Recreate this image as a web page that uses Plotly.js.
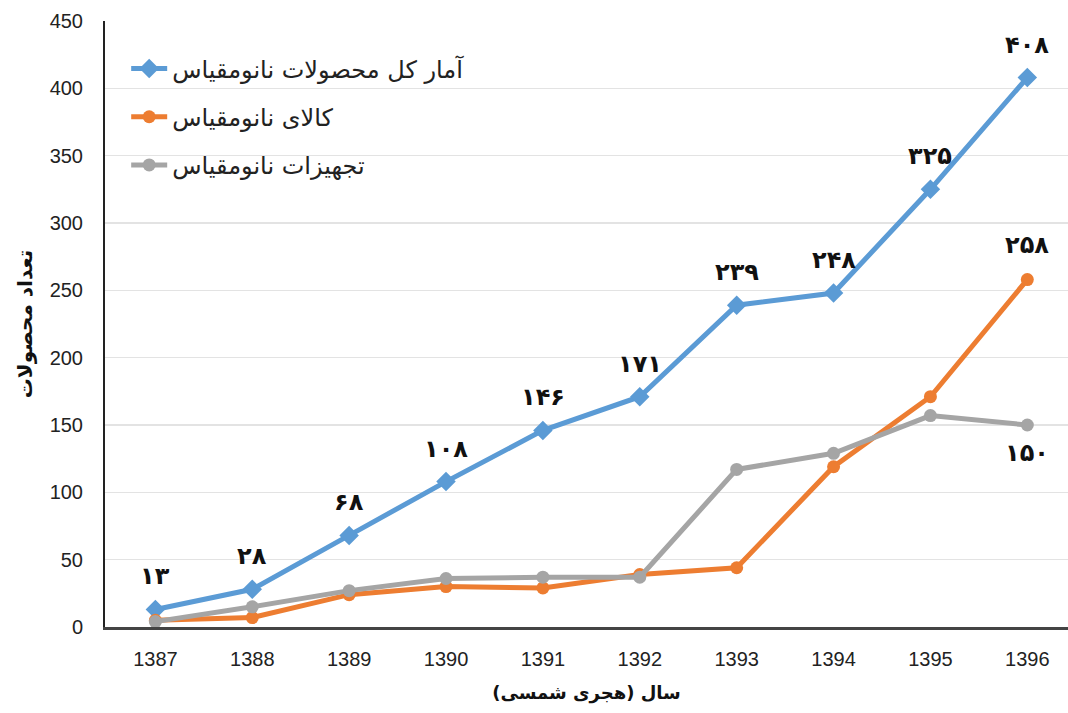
<!DOCTYPE html>
<html>
<head>
<meta charset="utf-8">
<script src="https://cdn.plot.ly/plotly-3.0.1.min.js"></script>
<style>html,body{margin:0;padding:0;background:#fff;}#chart{width:1068px;height:713px;}</style>
</head>
<body>
<div id="chart"></div>
<script>
const years = [1387, 1388, 1389, 1390, 1391, 1392, 1393, 1394, 1395, 1396];
const totalProducts = [13, 28, 68, 108, 146, 171, 239, 248, 325, 408];
const nanoGoods = [5, 7, 24, 30, 29, 39, 44, 119, 171, 258];
const nanoEquipment = [4, 15, 27, 36, 37, 37, 117, 129, 157, 150];
const seriesNames = ["آمار کل محصولات نانومقیاس", "کالای نانومقیاس", "تجهیزات نانومقیاس"];
const yTicks = [0, 50, 100, 150, 200, 250, 300, 350, 400, 450];
const xTitle = "سال (هجری شمسی)";
const yTitle = "تعداد محصولات";

const colors = ["#5B9BD5", "#ED7D31", "#A5A5A5"];
const faDigits = "۰۱۲۳۴۵۶۷۸۹";
function toFa(n) { return String(n).replace(/[0-9]/g, d => faDigits[+d]); }

const seriesData = [totalProducts, nanoGoods, nanoEquipment];
const symbols = ["diamond", "circle", "circle"];
const traces = seriesData.map((ys, i) => ({
  x: years, y: ys, name: seriesNames[i], type: "scatter", mode: "lines+markers",
  line: {color: colors[i], width: 5},
  marker: {color: colors[i], size: i === 0 ? 15 : 13, symbol: symbols[i]},
  legendgroup: "g" + i, cliponaxis: false
}));

const labelFont = {family: "DejaVu Sans, sans-serif", size: 24, color: "#111", weight: "bold"};
const annotations = [];
years.forEach((yr, k) => {
  annotations.push({x: yr, y: totalProducts[k], xref: "x", yref: "y", text: "<b>" + toFa(totalProducts[k]) + "</b>",
    showarrow: false, yshift: 33, font: labelFont});
});
const last = years.length - 1;
annotations.push({x: years[last], y: nanoGoods[last], xref: "x", yref: "y", text: "<b>" + toFa(nanoGoods[last]) + "</b>",
  showarrow: false, yshift: 35, font: labelFont});
annotations.push({x: years[last], y: nanoEquipment[last], xref: "x", yref: "y", text: "<b>" + toFa(nanoEquipment[last]) + "</b>",
  showarrow: false, yshift: -28, font: labelFont});

const layout = {
  width: 1068, height: 713,
  margin: {l: 105, r: 0, t: 21, b: 86},
  paper_bgcolor: "#fff", plot_bgcolor: "#fff",
  showlegend: true,
  legend: {x: 0.022, y: 0.958, xanchor: "left", yanchor: "top", bgcolor: "rgba(0,0,0,0)",
    font: {family: "DejaVu Sans, sans-serif", size: 24, color: "#222"},
    traceorder: "grouped", tracegroupgap: 14, itemwidth: 36},
  xaxis: {
    range: [1386.48, 1396.42], tickvals: years, ticktext: years.map(String),
    showgrid: false, zeroline: false, showline: true, linecolor: "#444", linewidth: 3,
    ticks: "", ticklabelstandoff: 12,
    tickfont: {family: "Liberation Sans, Arial, sans-serif", size: 20, color: "#222"},
    title: {text: "<b>" + xTitle + "</b>", font: {family: "DejaVu Sans, sans-serif", size: 18, color: "#111"}, standoff: 18}
  },
  yaxis: {
    range: [0, 450], tickvals: yTicks, ticktext: yTicks.map(String),
    showgrid: true, gridcolor: "#e3e3e3", gridwidth: 1.5, zeroline: false,
    showline: true, linecolor: "#222", linewidth: 2, ticks: "", ticklabelstandoff: 16,
    tickfont: {family: "Liberation Sans, Arial, sans-serif", size: 20, color: "#222"},
    title: {text: "<b>" + yTitle + "</b>", font: {family: "DejaVu Sans, sans-serif", size: 20, color: "#111"}, standoff: 12}
  },
  annotations: annotations
};

Plotly.newPlot("chart", traces, layout, {displayModeBar: false, staticPlot: true});
</script>
</body>
</html>
